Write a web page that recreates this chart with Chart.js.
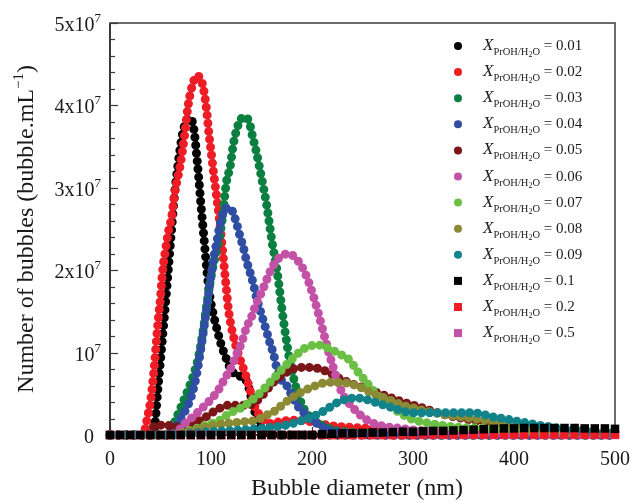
<!DOCTYPE html>
<html>
<head>
<meta charset="utf-8">
<script src="https://cdn.jsdelivr.net/npm/chart.js@4.4.1/dist/chart.umd.min.js"></script>
<style>
    html, body { margin: 0; padding: 0; background: #fff; }
    #wrap { width: 633px; height: 504px; }
</style>
</head>
<body>
<div id="wrap"><canvas id="bubbleChart" width="633" height="504"></canvas></div>
<script>
// Values.
// Diameter in nm, number of bubbles in units of 10^6 bubble/mL.
const d001 = [0, 40, 44, 47, 51, 55, 58, 61, 64, 67, 71, 75, 79, 82, 84, 86, 88, 90, 92, 94, 96, 99, 102, 106, 110, 115, 120, 126, 132, 136, 139, 142, 147, 152, 158, 170, 500];
const n001 = [0, 0, 0.8, 5, 10.5, 16, 20.5, 25, 29.3, 32.5, 36, 38, 38.5, 37.8, 36.2, 33.7, 31, 28, 25.3, 22.6, 19.8, 16.7, 14.8, 12.8, 11, 9.3, 7.9, 7.2, 7, 6.3, 5, 3.4, 1.6, 0.5, 0.1, 0, 0];

const d002 = [0, 33, 36, 38, 40, 42, 44, 46, 48, 50, 52, 55, 58, 61, 64, 69, 74, 77, 81, 86, 91, 94, 96, 98, 100, 102, 105, 108, 111, 113, 115, 117, 120, 124, 129, 134, 139, 142, 147, 152, 158, 168, 180, 195, 210, 230, 260, 290, 330, 400, 500];
const n002 = [0, 0, 1.5, 2.7, 4, 6, 8.5, 11.5, 14.3, 16.7, 19.8, 22.5, 24.8, 26.4, 29.3, 32.4, 36.5, 39.7, 42.2, 43.6, 42.8, 41, 39, 36.5, 34.5, 32.4, 29.5, 26.5, 23, 20.5, 18, 15.5, 13.2, 11.1, 9.1, 7.4, 5.3, 3.9, 2.6, 1.8, 1.4, 1.6, 1.8, 1.7, 1.3, 1, 0.8, 0.6, 0.4, 0.2, 0.1];

const d003 = [0, 55, 60, 64, 69, 74, 79, 84, 88, 92, 96, 99, 102, 106, 109, 112, 115, 119, 122, 126, 130, 134, 138, 141, 145, 148, 152, 155, 158, 161, 164, 167, 170, 174, 178, 182, 186, 190, 195, 200, 210, 222, 240, 270, 300, 500];
const n003 = [0, 0, 0.6, 1.6, 3, 4.5, 6, 7.8, 9.7, 12.5, 16, 18.4, 20.5, 22.5, 24.4, 27, 30.5, 32.6, 35.2, 37.3, 38.4, 38.6, 37.9, 36.3, 34.3, 32.5, 30, 28, 25.5, 23, 21, 18.5, 15.5, 12, 9, 6.8, 5, 3.7, 2.6, 2, 1.2, 0.6, 0.3, 0.1, 0, 0];

const d004 = [0, 58, 64, 70, 76, 80, 84, 87, 90, 93, 96, 99, 102, 106, 109, 113, 117, 121, 125, 129, 132, 135, 139, 142, 145, 149, 152, 155, 158, 162, 165, 170, 175, 180, 186, 191, 198, 205, 215, 228, 250, 280, 500];
const n004 = [0, 0, 0.8, 2, 3.3, 4.5, 6.3, 8.2, 10.5, 13, 15.6, 18.4, 21, 23.6, 25.6, 27.2, 27.6, 27.2, 25.8, 24, 22.8, 21.2, 19.6, 18.3, 16.7, 15, 13.8, 12.6, 11.3, 9.8, 8.2, 6.6, 6, 4.8, 3.5, 2.8, 2, 1.4, 0.7, 0.3, 0.1, 0, 0];

const d005 = [0, 38, 44, 55, 65, 75, 85, 95, 105, 117, 127, 137, 145, 153, 161, 171, 181, 190, 200, 208, 218, 228, 238, 254, 272, 290, 309, 330, 358, 380, 400, 430, 460, 500];
const n005 = [0, 0, 1.1, 1.2, 1, 1, 1.5, 2.2, 3, 3.6, 3.6, 3.6, 4.1, 5.1, 6.3, 7.3, 8, 8.2, 8.2, 8, 7.5, 6.8, 6.3, 5.6, 4.8, 4, 3.3, 2.5, 1.8, 1.3, 1, 0.6, 0.4, 0.2];

const d006 = [0, 60, 70, 76, 83, 89, 99, 107, 114, 120, 125, 130, 135, 140, 145, 150, 155, 160, 165, 171, 176, 183, 187, 191, 196, 201, 206, 211, 216, 221, 226, 231, 240, 250, 261, 274, 287, 310, 350, 400, 500];
const n006 = [0, 0, 0.8, 1.6, 2.3, 3, 4.2, 5.4, 6.9, 8.2, 9.7, 11.1, 13, 14.3, 16, 17.3, 18.8, 20.2, 21.2, 21.8, 22, 21.6, 21, 20.2, 18.8, 17, 14.9, 12.6, 10.3, 8.2, 6.3, 4.8, 3.4, 2.2, 1.4, 1, 0.8, 0.5, 0.3, 0.2, 0.1];

const d007 = [0, 60, 80, 95, 109, 119, 127, 137, 145, 154, 163, 172, 181, 190, 198, 208, 218, 228, 238, 244, 254, 262, 272, 280, 287, 297, 317, 340, 370, 400, 450, 500];
const n007 = [0, 0, 0.6, 1.2, 1.8, 2.7, 3.1, 3.9, 4.7, 5.8, 7, 8.2, 9.3, 10.3, 10.8, 10.9, 10.4, 9.8, 9, 7.9, 6.4, 5.2, 4, 3.2, 2.7, 2, 1.4, 1, 0.8, 0.6, 0.4, 0.2];

const d008 = [0, 60, 80, 100, 116, 132, 145, 155, 163, 172, 181, 191, 200, 208, 218, 228, 238, 246, 254, 262, 272, 280, 290, 300, 310, 330, 359, 370, 400, 430, 460, 500];
const n008 = [0, 0, 0.5, 1.1, 1.4, 1.6, 1.8, 2.4, 2.9, 3.8, 4.6, 5.3, 5.8, 6.2, 6.4, 6.4, 6.2, 5.9, 5.4, 4.9, 4.5, 4.1, 3.6, 3.3, 3, 2.5, 2, 1.8, 1.3, 0.9, 0.5, 0.2];

const d009 = [0, 60, 80, 100, 130, 150, 170, 181, 191, 200, 210, 218, 226, 236, 244, 254, 262, 272, 280, 290, 300, 320, 340, 360, 369, 379, 389, 398, 406, 416, 424, 435, 450, 470, 500];
const n009 = [0, 0, 0.2, 0.4, 0.6, 0.8, 1.1, 1.4, 1.8, 2.2, 2.8, 3.4, 4, 4.4, 4.5, 4.3, 4, 3.6, 3.3, 2.9, 2.7, 2.7, 2.7, 2.7, 2.5, 2.2, 2, 1.8, 1.6, 1.4, 1.2, 1, 0.7, 0.4, 0.2];

// square-marker series, sampled every 10 nm
const sqDiam = [0, 10, 20, 30, 40, 50, 60, 70, 80, 90, 100, 110, 120, 130, 140, 150, 160, 170, 180, 190, 200, 210, 220, 230, 240, 250, 260, 270, 280, 290, 300, 310, 320, 330, 340, 350, 360, 370, 380, 390, 400, 410, 420, 430, 440, 450, 460, 470, 480, 490, 500];
const n010 = [0, 0, 0, 0, 0, 0, 0, 0, 0, 0, 0, 0, 0, 0, 0, 0, 0, 0, 0, 0, 0, 0.1, 0.15, 0.2, 0.2, 0.25, 0.3, 0.3, 0.35, 0.4, 0.4, 0.45, 0.5, 0.5, 0.55, 0.6, 0.65, 0.7, 0.75, 0.8, 0.8, 0.85, 0.85, 0.85, 0.85, 0.85, 0.85, 0.8, 0.8, 0.8, 0.75];
const n020 = [0, 0, 0, 0, 0, 0, 0, 0, 0, 0, 0, 0, 0, 0, 0, 0, 0, 0, 0, 0, 0, 0, 0, 0, 0, 0, 0, 0, 0, 0, 0, 0.05, 0.05, 0.05, 0.05, 0.05, 0.05, 0.05, 0.05, 0.05, 0.05, 0.05, 0.05, 0.05, 0.05, 0.05, 0.05, 0.05, 0.05, 0.05, 0.05];
const n050 = [0, 0, 0, 0, 0, 0, 0, 0, 0, 0, 0, 0, 0, 0, 0, 0, 0, 0, 0, 0, 0, 0, 0, 0, 0, 0, 0, 0, 0, 0, 0, 0, 0, 0, 0, 0, 0, 0, 0, 0, 0, 0, 0, 0, 0, 0, 0, 0, 0, 0, 0];

const fractions = ['0.01', '0.02', '0.03', '0.04', '0.05', '0.06', '0.07', '0.08', '0.09', '0.1', '0.2', '0.5'];
const seriesColors = ['#000000', '#ee1c25', '#0b7f40', '#2f4ea3', '#7a1518', '#c352a7', '#6cbf45', '#8b8a35', '#12838a', '#000000', '#ee1c25', '#c352a7'];

const xTicks = [0, 100, 200, 300, 400, 500];
const yTicks = [0, 1e7, 2e7, 3e7, 4e7, 5e7];
const yTickLabels = [['0', ''], ['10', '7'], ['2x10', '7'], ['3x10', '7'], ['4x10', '7'], ['5x10', '7']];

const SERIF = '"Liberation Serif", "Times New Roman", serif';

const circleSeries = [
    [d001, n001], [d002, n002], [d003, n003], [d004, n004], [d005, n005],
    [d006, n006], [d007, n007], [d008, n008], [d009, n009]
];
const squareSeries = [n010, n020, n050];

const datasets = [];
circleSeries.forEach(([d, n], i) => {
    datasets.push({
        label: fractions[i],
        data: d.map((x, k) => ({ x: x, y: n[k] * 1e6 })),
        borderColor: seriesColors[i],
        backgroundColor: seriesColors[i],
        borderWidth: 9,
        borderCapStyle: 'round',
        borderDash: [0, 8],
        pointRadius: 0,
        fill: false,
        cubicInterpolationMode: 'monotone',
        clip: false,
        order: 11 - i // later fractions drawn on top
    });
});
squareSeries.forEach((n, j) => {
    const i = 9 + j;
    datasets.push({
        label: fractions[i],
        data: sqDiam.map((x, k) => ({ x: x, y: n[k] * 1e6 })),
        showLine: false,
        pointStyle: 'rect',
        pointRadius: 6,
        pointBorderWidth: 0,
        pointBackgroundColor: seriesColors[i],
        borderColor: seriesColors[i],
        clip: false,
        order: j // 0.1 on top of everything
    });
});

// draws a run of text pieces [text, font, dy] from x, returns end x
function textRun(ctx, x, y, pieces, measureOnly) {
    pieces.forEach(([t, font, dy]) => {
        ctx.font = font;
        if (!measureOnly) ctx.fillText(t, x, y + dy);
        x += ctx.measureText(t).width;
    });
    return x;
}

const axisDecor = {
    id: 'axisDecor',
    beforeDatasetsDraw(chart) {
        const { ctx, chartArea: a } = chart;
        ctx.save();
        ctx.strokeStyle = '#3a3a3a';
        ctx.lineWidth = 1.5;
        ctx.strokeRect(a.left, a.top, a.right - a.left, a.bottom - a.top);
        ctx.lineWidth = 2;
        ctx.beginPath();
        ctx.moveTo(a.left, a.top);
        ctx.lineTo(a.left, a.bottom);
        ctx.lineTo(a.right, a.bottom);
        ctx.stroke();

        // inward ticks on the left axis
        const ys = chart.scales.y;
        ctx.lineWidth = 1.2;
        for (let v = 0; v <= 5e7; v += 2e6) {
            const py = Math.round(ys.getPixelForValue(v)) + 0.5;
            const len = v % 1e7 === 0 ? 8 : 5;
            ctx.beginPath();
            ctx.moveTo(a.left, py);
            ctx.lineTo(a.left + len, py);
            ctx.stroke();
        }
        const xs = chart.scales.x;
        xTicks.forEach(v => {
            const px = Math.round(xs.getPixelForValue(v)) + 0.5;
            ctx.beginPath();
            ctx.moveTo(px, a.bottom);
            ctx.lineTo(px, a.bottom - 8);
            ctx.stroke();
        });
        ctx.restore();
    },
    afterDatasetsDraw(chart) {
        const { ctx, chartArea: a } = chart;
        const xs = chart.scales.x, ys = chart.scales.y;
        ctx.save();
        ctx.fillStyle = '#1a1a1a';
        ctx.textBaseline = 'alphabetic';

        // x tick labels
        ctx.font = '20px ' + SERIF;
        ctx.textAlign = 'center';
        xTicks.forEach(v => ctx.fillText(String(v), xs.getPixelForValue(v), 465));

        // y tick labels with superscript exponent
        ctx.textAlign = 'left';
        yTicks.forEach((v, i) => {
            const [main, sup] = yTickLabels[i];
            const pieces = [[main, '20px ' + SERIF, 0]];
            if (sup) pieces.push([sup, '13px ' + SERIF, -9]);
            const w = textRun(ctx, 0, 0, pieces, true);
            const right = sup ? 101 : 94;
            textRun(ctx, right - w, ys.getPixelForValue(v) + 8, pieces);
        });

        // axis titles
        ctx.font = '24px ' + SERIF;
        ctx.textAlign = 'center';
        ctx.fillText('Bubble diameter (nm)', 357, 495);

        ctx.textAlign = 'left';
        const yTitle = [
            ['Number of bubbles (bubble.mL', '24px ' + SERIF, 0],
            ['\u22121', '15px ' + SERIF, -10],
            [')', '24px ' + SERIF, 0]
        ];
        const tw = textRun(ctx, 0, 0, yTitle, true);
        ctx.save();
        ctx.translate(33, (a.top + a.bottom) / 2);
        ctx.rotate(-Math.PI / 2);
        textRun(ctx, -tw / 2, 0, yTitle);
        ctx.restore();

        // legend
        fractions.forEach((f, i) => {
            const rowY = 46 + i * 26.1;
            ctx.fillStyle = seriesColors[i];
            if (i < 9) {
                ctx.beginPath();
                ctx.arc(458, rowY, 4, 0, Math.PI * 2);
                ctx.fill();
            } else {
                ctx.fillRect(454, rowY - 4, 8, 8);
            }
            ctx.fillStyle = '#1a1a1a';
            textRun(ctx, 483, rowY + 4, [
                ['X', 'italic 17px ' + SERIF, 0],
                ['PrOH/H', '10.5px ' + SERIF, 5],
                ['2', '8px ' + SERIF, 7],
                ['O', '10.5px ' + SERIF, 5],
                [' = ' + f, '15px ' + SERIF, 0]
            ]);
        });
        ctx.restore();
    }
};

new Chart(document.getElementById('bubbleChart'), {
    type: 'line',
    data: { datasets: datasets },
    options: {
        responsive: false,
        animation: false,
        events: [],
        layout: { padding: { left: 110, right: 18, top: 23, bottom: 69 } },
        scales: {
            x: { type: 'linear', min: 0, max: 500, display: false },
            y: { type: 'linear', min: 0, max: 5e7, display: false }
        },
        plugins: {
            legend: { display: false },
            tooltip: { enabled: false }
        }
    },
    plugins: [axisDecor]
});
</script>
</body>
</html>
